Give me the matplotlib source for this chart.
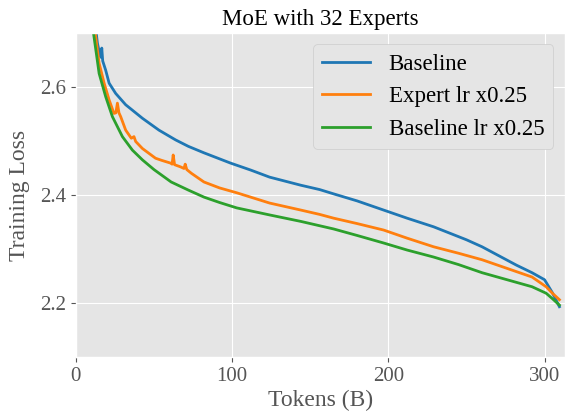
import matplotlib
matplotlib.use("Agg")
import matplotlib.pyplot as plt

plt.style.use("ggplot")
plt.rcParams['font.family'] = ['Liberation Serif', 'DejaVu Serif']

# tokens (B) and training loss
baseline_x = [6, 10, 12.8, 13.8, 15, 16, 16.6, 17.2, 19.1, 21.3, 25.5, 31.9, 42.6, 53.2, 63.8, 72, 82,
              99, 112, 124, 144, 156, 165, 180, 197, 212, 229, 250, 260, 271, 282, 292, 300, 305, 309.5]
baseline_y = [2.98, 2.78, 2.706, 2.681, 2.665, 2.655, 2.672, 2.648, 2.631, 2.607, 2.588, 2.567, 2.542,
              2.520, 2.502, 2.49, 2.478, 2.459, 2.446, 2.433, 2.418, 2.410, 2.402, 2.389, 2.372, 2.357,
              2.341, 2.317, 2.304, 2.287, 2.27, 2.256, 2.243, 2.219, 2.193]

expert_x = [6, 10, 12.1, 14.9, 18.1, 21.3, 24.4, 25.6, 26.6, 27.6, 28.7, 31.9, 35.5, 37.2, 38.3, 42.6,
            51, 55, 60.6, 61.6, 62.3, 63.2, 67, 69.2, 70, 71, 74, 82, 92, 103, 124, 144, 156, 165, 180,
            197, 212, 229, 245, 260, 276, 292, 301, 305, 309.5]
expert_y = [2.93, 2.76, 2.706, 2.644, 2.607, 2.576, 2.551, 2.552, 2.570, 2.552, 2.545, 2.520, 2.505,
            2.508, 2.499, 2.486, 2.468, 2.464, 2.459, 2.457, 2.474, 2.456, 2.452, 2.449, 2.457, 2.447,
            2.440, 2.424, 2.413, 2.404, 2.385, 2.372, 2.364, 2.357, 2.347, 2.335, 2.32, 2.304, 2.292,
            2.28, 2.264, 2.248, 2.23, 2.218, 2.206]

lr_x = [6, 9, 11, 14.9, 19.1, 23.4, 29.8, 36.2, 42.6, 50, 61, 72, 82, 92, 103, 124, 144, 156, 165, 180,
        197, 212, 229, 245, 260, 276, 292, 301, 305, 309.5]
lr_y = [2.91, 2.76, 2.706, 2.625, 2.582, 2.545, 2.508, 2.483, 2.465, 2.447, 2.424, 2.409, 2.396, 2.386,
        2.376, 2.363, 2.351, 2.343, 2.337, 2.325, 2.311, 2.298, 2.285, 2.271, 2.256, 2.243, 2.230,
        2.218, 2.208, 2.196]

fig, ax = plt.subplots(figsize=(5.66, 4.17), dpi=100)
fig.subplots_adjust(left=0.134, right=0.998, top=0.921, bottom=0.144)

ax.plot(baseline_x, baseline_y, color="#1f77b4", lw=2, label="Baseline")
ax.plot(expert_x, expert_y, color="#ff7f0e", lw=2, label="Expert lr x0.25")
ax.plot(lr_x, lr_y, color="#2ca02c", lw=2, label="Baseline lr x0.25")

ax.set_xlim(0, 313)
ax.set_ylim(2.1, 2.7)
ax.set_xticks([0, 100, 200, 300])
ax.set_yticks([2.2, 2.4, 2.6])
ax.tick_params(labelsize=15)
ax.set_xlabel("Tokens (B)", fontsize=17, labelpad=3)
ax.set_ylabel("Training Loss", fontsize=17, labelpad=7)
ax.set_title("MoE with 32 Experts", fontsize=16.5, color="black", pad=6)
ax.legend(loc="upper right", fontsize=16.5, facecolor="#e5e5e5", framealpha=1,
          edgecolor="#cccccc", handlelength=2.1, handletextpad=0.8, borderaxespad=0.5)

fig.savefig("out.png", dpi=100)
